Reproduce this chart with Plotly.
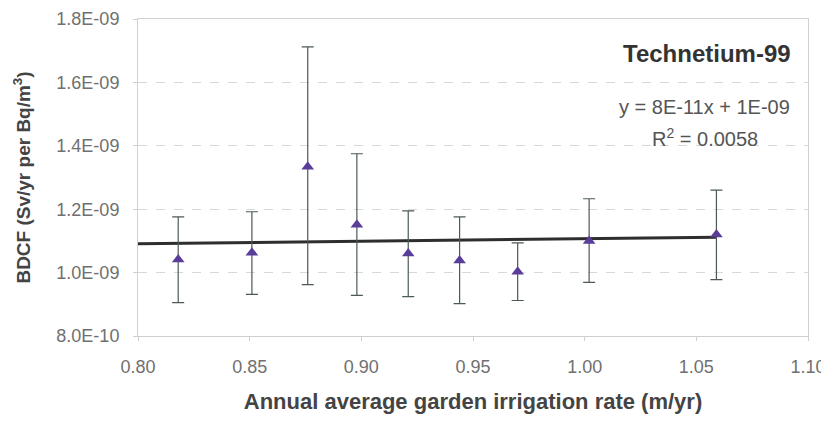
import plotly.graph_objects as go

# irrigation rate (m/yr) and BDCF values
rate = [0.818, 0.851, 0.876, 0.898, 0.921, 0.944, 0.970, 1.002, 1.059]
bdcf = [1.041e-9, 1.063e-9, 1.334e-9, 1.151e-9, 1.060e-9, 1.038e-9, 1.003e-9, 1.100e-9, 1.120e-9]
upper = [1.176e-9, 1.192e-9, 1.712e-9, 1.375e-9, 1.195e-9, 1.176e-9, 1.094e-9, 1.233e-9, 1.260e-9]
lower = [0.905e-9, 0.931e-9, 0.962e-9, 0.928e-9, 0.924e-9, 0.902e-9, 0.912e-9, 0.969e-9, 0.978e-9]

# trend line as drawn in the chart (label rounds it to 8E-11x + 1E-09)
trend_slope = 8.0e-11
trend_intercept = 1.027e-9
trend_x = [0.80, 1.059]

y_ticks = [8.0e-10, 1.0e-9, 1.2e-9, 1.4e-9, 1.6e-9, 1.8e-9]
y_labels = ['8.0E-10', '1.0E-09', '1.2E-09', '1.4E-09', '1.6E-09', '1.8E-09']
x_ticks = [0.80, 0.85, 0.90, 0.95, 1.00, 1.05, 1.10]

err_up = [u - v for u, v in zip(upper, bdcf)]
err_dn = [v - l for v, l in zip(bdcf, lower)]
trend_y = [trend_slope * v + trend_intercept for v in trend_x]

font = 'Liberation Sans, Arial, sans-serif'

fig = go.Figure()
fig.add_trace(go.Scatter(
    x=trend_x, y=trend_y, mode='lines',
    line=dict(color='#2e2e2e', width=3), showlegend=False))
fig.add_trace(go.Scatter(
    x=rate, y=bdcf, mode='markers',
    marker=dict(symbol='triangle-up', size=11, color='#5a3d99'),
    error_y=dict(type='data', array=err_up, arrayminus=err_dn,
                 color='#4d5959', thickness=1.2, width=6),
    showlegend=False))

fig.add_annotation(x=0.978, y=0.89, xref='paper', yref='paper',
                   text='<b>Technetium-99</b>', showarrow=False,
                   xanchor='right', yanchor='middle',
                   font=dict(family=font, size=24, color='#333333'))
fig.add_annotation(x=0.846, y=0.722, xref='paper', yref='paper',
                   text='y = 8E-11x + 1E-09', showarrow=False,
                   xanchor='center', yanchor='middle',
                   font=dict(family=font, size=20, color='#555555'))
fig.add_annotation(x=0.846, y=0.625, xref='paper', yref='paper',
                   text='R<sup>2</sup> = 0.0058', showarrow=False,
                   xanchor='center', yanchor='middle',
                   font=dict(family=font, size=20, color='#555555'))

# page body adds an 8px offset, so the figure is drawn 8px smaller
fig.update_layout(
    width=821, height=413,
    margin=dict(l=130, r=21, t=11, b=85),
    paper_bgcolor='white', plot_bgcolor='white',
    font=dict(family=font, color='#666666'),
    xaxis=dict(range=[0.80, 1.10], tickvals=x_ticks,
               ticktext=['%.2f' % v for v in x_ticks],
               showgrid=False, zeroline=False, automargin=False,
               showline=True, linecolor='#d0d0d0', linewidth=1, mirror=True,
               ticks='outside', tickcolor='#d0d0d0', ticklen=4,
               ticklabelstandoff=10, ticklabeloverflow='allow',
               tickfont=dict(size=18, color='#707070'),
               title=dict(text='<b>Annual average garden irrigation rate (m/yr)</b>',
                          font=dict(size=22, color='#444444'), standoff=18)),
    yaxis=dict(range=[8.0e-10, 1.8e-9], tickvals=y_ticks, ticktext=y_labels,
               showgrid=True, gridcolor='#d8d8d8', griddash='dash', gridwidth=1,
               zeroline=False, automargin=False,
               showline=True, linecolor='#d0d0d0', linewidth=1, mirror=True,
               ticks='outside', tickcolor='#d0d0d0', ticklen=4,
               ticklabelstandoff=10, ticklabeloverflow='allow',
               tickfont=dict(size=18, color='#707070'),
               title=dict(text='<b>BDCF (Sv/yr per Bq/m<sup>3</sup>)</b>',
                          font=dict(size=19, color='#444444'), standoff=20)),
)

fig.write_html("out.html")
